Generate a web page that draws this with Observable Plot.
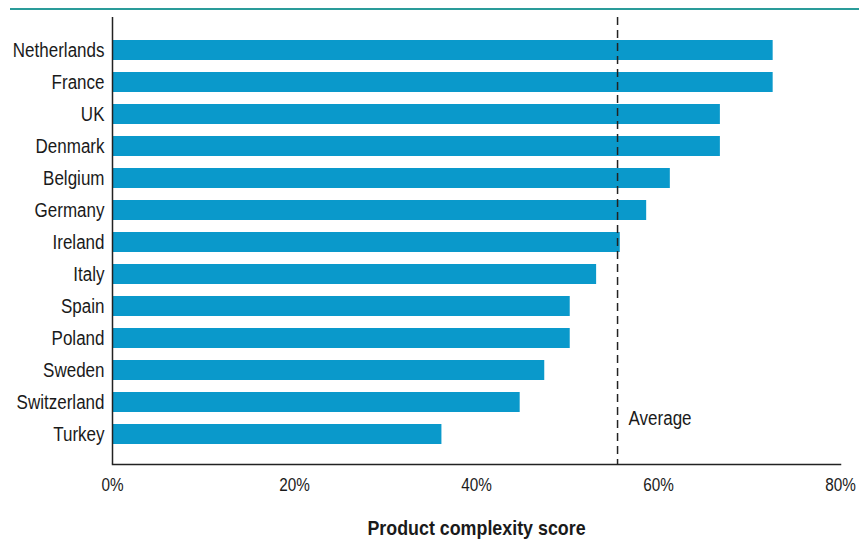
<!DOCTYPE html>
<html>
<head>
<meta charset="utf-8">
<script src="https://cdn.jsdelivr.net/npm/d3@7"></script>
<script src="https://cdn.jsdelivr.net/npm/@observablehq/plot@0.6"></script>
<style>
  html, body { margin: 0; padding: 0; background: #fff; }
  #wrap { position: relative; width: 859px; height: 541px; }
  #topline { position: absolute; top: 8px; left: 10px; right: 0; height: 2px; background: #2a9c9a; }
  svg text { fill: #1a1a1a; }
</style>
</head>
<body>
<div id="wrap"><div id="topline"></div></div>
<script>
// Product complexity score by country (%)
const countries = ["Netherlands", "France", "UK", "Denmark", "Belgium", "Germany", "Ireland",
  "Italy", "Spain", "Poland", "Sweden", "Switzerland", "Turkey"];
const scores = [72.6, 72.6, 66.8, 66.8, 61.3, 58.7, 55.8, 53.2, 50.3, 50.3, 47.5, 44.8, 36.2];
const average = 55.5;
const xTicks = [0, 20, 40, 60, 80];
const axisTitle = "Product complexity score";

const data = countries.map((c, i) => ({country: c, score: scores[i]}));
const font = "'Liberation Sans', Arial, sans-serif";

const chart = Plot.plot({
  width: 859,
  height: 541,
  marginLeft: 112,
  marginRight: 19,
  marginTop: 17,
  marginBottom: 77,
  style: {fontFamily: font, background: "transparent", overflow: "visible"},
  x: {domain: [0, 80], ticks: xTicks},
  y: {domain: countries, paddingInner: 0.385, paddingOuter: 0.57, align: 0.53},
  marks: [
    Plot.barX(data, {x: "score", y: "country", fill: "#0a99cb"}),
    Plot.ruleX([0], {stroke: "#222", strokeWidth: 1.5}),
    Plot.frame({anchor: "bottom", stroke: "#222", strokeWidth: 1.5}),
    Plot.ruleX([average], {stroke: "#222", strokeWidth: 1.5, strokeDasharray: "8,5"}),
    Plot.text([average], {x: d => d, frameAnchor: "bottom", dx: 11, dy: -40, text: () => "Average",
      textAnchor: "start", fontSize: 20}),
    Plot.axisY({tickSize: 0, tickPadding: 8, fontSize: 20, label: null}),
    Plot.axisX(xTicks, {tickSize: 0, tickPadding: 14, fontSize: 18, label: null,
      tickFormat: d => d + "%"}),
    Plot.text([axisTitle], {frameAnchor: "bottom", dy: 70, fontWeight: "bold", fontSize: 21})
  ]
});

document.getElementById("wrap").appendChild(chart);

// Narrow letterforms: compress each label's glyphs to 85% of their natural width
chart.querySelectorAll("text").forEach(t => {
  const w = t.getComputedTextLength();
  if (w > 0) {
    t.setAttribute("textLength", (w * 0.85).toFixed(2));
    t.setAttribute("lengthAdjust", "spacingAndGlyphs");
  }
});
</script>
</body>
</html>
